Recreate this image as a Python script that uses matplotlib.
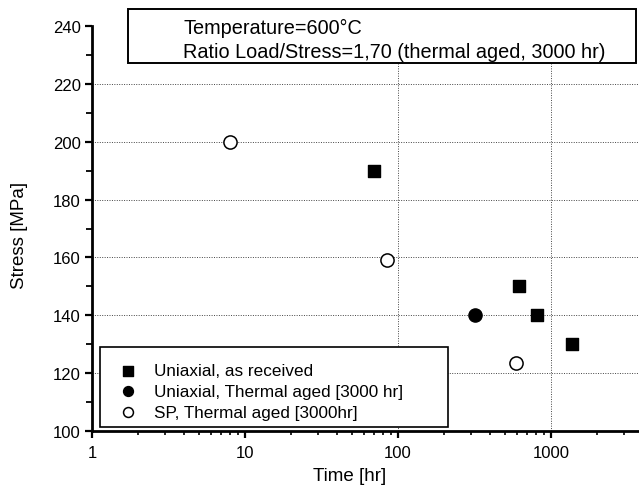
import matplotlib
matplotlib.use("Agg")
import matplotlib.pyplot as plt
from matplotlib.patches import Rectangle
from matplotlib.ticker import FixedLocator, LogLocator, NullFormatter

plt.rcParams['font.family'] = ['Liberation Sans', 'DejaVu Sans']

# Rupture data: time to rupture [hr] vs applied stress [MPa]
uni_asrec_time = [70, 620, 810, 1380]
uni_asrec_stress = [190, 150, 140, 130]

uni_aged_time = [320]
uni_aged_stress = [140]

sp_aged_time = [8, 85, 590]
sp_aged_stress = [200, 159, 123.5]

legend_labels = ["Uniaxial, as received",
                 "Uniaxial, Thermal aged [3000 hr]",
                 "SP, Thermal aged [3000hr]"]
info_lines = ["Temperature=600\u00b0C",
              "Ratio Load/Stress=1,70 (thermal aged, 3000 hr)"]

W, H = 639, 489


def fx(px):
    return px / W


def fy(py):
    return 1 - py / H


fig = plt.figure(figsize=(W / 100, H / 100), dpi=100)
ax = fig.add_axes([92 / W, (H - 432) / H, 1 - 92 / W, (432 - 27) / H])

ax.set_xscale('log')
ax.set_xlim(1, 3760)
ax.set_ylim(100, 240)

ax.scatter(uni_asrec_time, uni_asrec_stress, marker='s', s=75, c='black', zorder=3,
           label=legend_labels[0])
ax.scatter(uni_aged_time, uni_aged_stress, marker='o', s=90, c='black', zorder=3,
           label=legend_labels[1])
ax.scatter(sp_aged_time, sp_aged_stress, marker='o', s=90, facecolors='white',
           edgecolors='black', linewidths=1.1, zorder=3, label=legend_labels[2])

# dotted reference grid
for y in range(120, 240, 20):
    ax.axhline(y, color='#444444', lw=0.7, ls=(0, (1, 1.5)), zorder=1)
for x in (100, 1000):
    ax.axvline(x, color='#444444', lw=0.7, ls=(0, (1, 1.5)), zorder=1)

ax.yaxis.set_major_locator(FixedLocator(range(100, 241, 20)))
ax.yaxis.set_minor_locator(FixedLocator(range(110, 241, 20)))
ax.set_xticks([1, 10, 100, 1000])
ax.set_xticklabels(['1', '10', '100', '1000'])
ax.xaxis.set_minor_locator(LogLocator(base=10, subs=range(2, 10)))
ax.xaxis.set_minor_formatter(NullFormatter())

for side in ('top', 'right'):
    ax.spines[side].set_visible(False)
for side in ('left', 'bottom'):
    ax.spines[side].set_linewidth(2.0)

ax.tick_params(axis='y', which='major', direction='out', length=5, width=1.6,
               labelsize=12, pad=3)
ax.tick_params(axis='y', which='minor', direction='out', length=4, width=1.3)
ax.tick_params(axis='x', which='major', direction='out', length=5, width=1.6,
               labelsize=12, pad=5)
ax.tick_params(axis='x', which='minor', direction='out', length=3, width=1.2)

ax.set_xlabel('Time [hr]', fontsize=13.5)
ax.xaxis.set_label_coords((350 - 92) / (W - 92), -(477 - 432) / (432 - 27))
ax.xaxis.label.set_va('center')
ax.set_ylabel('Stress [MPa]', fontsize=13.5)
ax.yaxis.set_label_coords(-(92 - 20) / (W - 92), (432 - 235) / (432 - 27))
ax.yaxis.label.set_va('center')

# condition box
fig.patches.append(Rectangle((fx(128), fy(64)), fx(636) - fx(128), fy(10) - fy(64),
                             transform=fig.transFigure, facecolor='white',
                             edgecolor='black', lw=1.4, zorder=5))
fig.text(fx(183), fy(28), info_lines[0], fontsize=14.3, va='center', ha='left', zorder=6)
fig.text(fx(183), fy(52), info_lines[1], fontsize=14.3, va='center', ha='left', zorder=6)

# legend box
ax.add_patch(Rectangle((fx(100), fy(428)), fx(448) - fx(100), fy(348) - fy(428),
                       transform=fig.transFigure, facecolor='white',
                       edgecolor='black', lw=1.2, zorder=4))
leg = ax.legend(loc='upper left', bbox_to_anchor=(fx(111), fy(364)),
                bbox_transform=fig.transFigure, frameon=False,
                fontsize=12.3, handlelength=2.0, handletextpad=0.5,
                borderpad=0, labelspacing=0.35, markerscale=0.75, borderaxespad=0)
leg.set_zorder(5)

fig.savefig('out.png', dpi=100)
